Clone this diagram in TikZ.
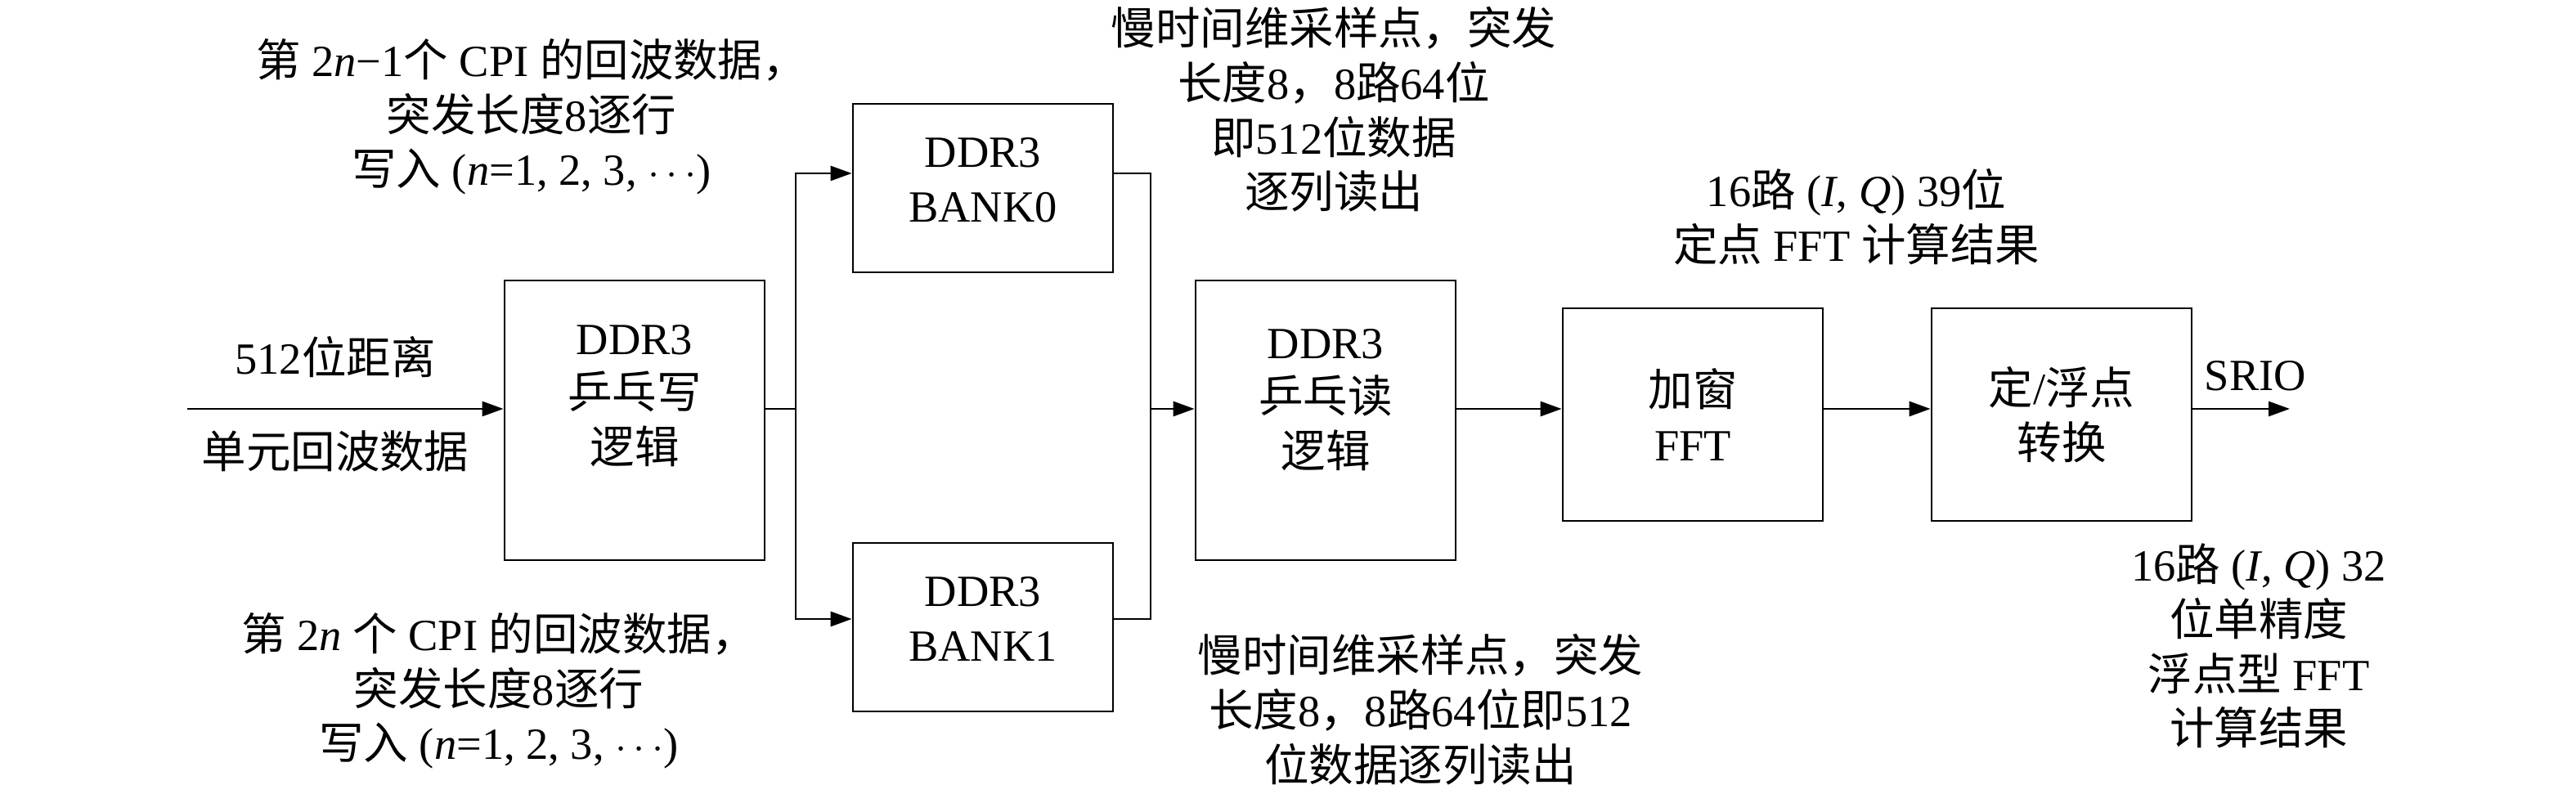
\documentclass[tikz,border=0pt]{standalone}
\usepackage{fontspec}
\setmainfont{Liberation Serif}
\newfontfamily\cjk{Noto Sans CJK SC}
\newcommand{\zh}[1]{{\cjk #1}}
\usepackage{tikz}
\usetikzlibrary{arrows.meta,calc}

\begin{document}
\begin{tikzpicture}[
  font=\fontsize{15.5}{19}\selectfont,
  blk/.style={draw, line width=0.8pt, minimum width=3.18cm, inner sep=0},
  lab/.style={align=center, inner sep=0},
  link/.style={line width=0.8pt},
  arrow/.style={-{Triangle[length=2.6mm, width=1.8mm]}, line width=0.8pt}
]
\useasboundingbox (0,0) rectangle (31.5,9.7);
% boxes
\node[blk, minimum height=3.42cm] (write) at (7.76,4.56) {};
\node[blk, minimum height=2.06cm] (bank0) at (12.02,7.40) {};
\node[blk, minimum height=2.06cm] (bank1) at (12.02,2.03) {};
\node[blk, minimum height=3.42cm] (read) at (16.21,4.56) {};
\node[blk, minimum height=2.6cm] (fft) at (20.70,4.63) {};
\node[blk, minimum height=2.6cm] (conv) at (25.21,4.63) {};
\node[lab] (writelab) at ([yshift=3mm]write.center) {DDR3\\\zh{乒乓写}\\\zh{逻辑}};
\node[lab] (bank0lab) at ([yshift=1mm]bank0.center) {DDR3\\BANK0};
\node[lab] (bank1lab) at ([yshift=1mm]bank1.center) {DDR3\\BANK1};
\node[lab] (readlab) at ([yshift=2.5mm]read.center) {DDR3\\\zh{乒乓读}\\\zh{逻辑}};
\node[lab] (fftlab) at (fft.center) {\zh{加窗}\\FFT};
\node[lab] (convlab) at (conv.center) {\zh{定}/\zh{浮点}\\\zh{转换}};
% connectors
\coordinate (in) at (2.29,4.70);
\coordinate (out) at (28.00,4.70);
\coordinate (split) at (9.73,4.70);
\coordinate (join) at (14.07,4.70);
\draw[arrow] (in) -- (in -| write.west);
\draw[link] (write.east |- in) -- (split);
\draw[arrow] (split) |- ([yshift=1.8mm]bank0.west);
\draw[arrow] (split) |- ([yshift=1mm]bank1.west);
\draw[link] ([yshift=1.8mm]bank0.east) -| (join);
\draw[link] ([yshift=1mm]bank1.east) -| (join);
\draw[arrow] (join) -- (join -| read.west);
\draw[arrow] (read.east |- in) -- (in -| fft.west);
\draw[arrow] (fft.east |- in) -- (in -| conv.west);
\draw[arrow] (conv.east |- in) -- (out);
% labels
\node[lab] (inlab1) at (4.10,5.33) {512\zh{位距离}};
\node[lab] (inlab2) at (4.10,4.18) {\zh{单元回波数据}};
\node[lab] (oddlab) at (6.50,8.27) {\zh{第} 2\textit{n}−1\zh{个} CPI \zh{的回波数据，}\\\zh{突发长度}8\zh{逐行}\\\zh{写入} (\textit{n}=1, 2, 3, $\cdots$)};
\node[lab] (evenlab) at (6.10,1.25) {\zh{第} 2\textit{n} \zh{个} CPI \zh{的回波数据，}\\\zh{突发长度}8\zh{逐行}\\\zh{写入} (\textit{n}=1, 2, 3, $\cdots$)};
\node[lab] (readtop) at (16.31,8.36) {\zh{慢时间维采样点，突发}\\\zh{长度}8\zh{，}8\zh{路}64\zh{位}\\\zh{即}512\zh{位数据}\\\zh{逐列读出}};
\node[lab] (readbot) at (17.37,1.02) {\zh{慢时间维采样点，突发}\\\zh{长度}8\zh{，}8\zh{路}64\zh{位即}512\\\zh{位数据逐列读出}};
\node[lab] (fixlab) at (22.70,7.05) {16\zh{路} (\textit{I}, \textit{Q}) 39\zh{位}\\\zh{定点} FFT \zh{计算结果}};
\node[lab] (srio) at (27.58,5.10) {SRIO};
\node[lab] (floatlab) at (27.62,1.80) {16\zh{路} (\textit{I}, \textit{Q}) 32\\\zh{位单精度}\\\zh{浮点型} FFT\\\zh{计算结果}};
\end{tikzpicture}
\end{document}
